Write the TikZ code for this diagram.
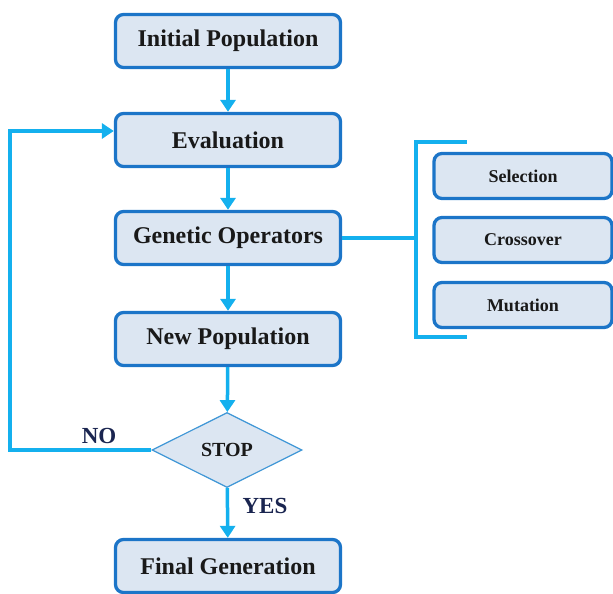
\documentclass[tikz,border=0pt]{standalone}
\usepackage{fontspec}
\setmainfont{Liberation Serif}
\usetikzlibrary{shapes.geometric,arrows.meta}
\definecolor{boxfill}{HTML}{DCE6F2}
\definecolor{boxedge}{HTML}{1C75C8}
\definecolor{conn}{HTML}{14B0EE}
\definecolor{dia}{HTML}{3E96D6}
\definecolor{lbl}{HTML}{1A2550}
\begin{document}
\begin{tikzpicture}[x=1pt,y=-1pt,
  mainbox/.style={draw=boxedge,line width=3.3pt,fill=boxfill,rounded corners=8pt,minimum width=225pt,minimum height=53pt,font=\bfseries\fontsize{24}{28}\selectfont,text=black!90,inner sep=0pt},
  opbox/.style={draw=boxedge,line width=3.3pt,fill=boxfill,rounded corners=8pt,minimum width=178pt,minimum height=45pt,font=\bfseries\fontsize{18}{20}\selectfont,text=black!90,inner sep=0pt},
  decision/.style={diamond,draw=dia,line width=1.2pt,fill=boxfill,minimum width=150pt,minimum height=75pt,aspect=2,inner sep=0pt,font=\bfseries\fontsize{20}{22}\selectfont,text=black!90},
  flow/.style={draw=conn,line width=3.5pt,-{Triangle[length=12pt,width=15pt]}},
  link/.style={draw=conn,line width=3.5pt},
  lab/.style={font=\bfseries\fontsize{23}{26}\selectfont,text=lbl}]
\useasboundingbox (0,0) rectangle (613,594);
\node[mainbox] (init) at (228,41) {Initial Population};
\node[mainbox] (eval) at (228,140) {Evaluation};
\node[mainbox] (gen) at (228,238) {Genetic Operators};
\node[mainbox] (newp) at (228,339) {New Population};
\node[decision] (stop) at (227,450) {STOP};
\node[mainbox] (fin) at (228,566) {Final Generation};
\node[opbox] (sel) at (523,176) {Selection};
\node[opbox] (cro) at (523,240) {Crossover};
\node[opbox] (mut) at (523,305) {Mutation};
\coordinate (bl) at (10,450);
\coordinate (tl) at (10,131);
\coordinate (bm) at (416,238);
\coordinate (bt) at (416,142);
\coordinate (bb) at (416,337);
\coordinate (bte) at (465,142);
\coordinate (bbe) at (465,337);
\draw[flow] (init) -- (eval);
\draw[flow] (eval) -- (gen);
\draw[flow] (gen) -- (newp);
\draw[flow] (newp) -- (stop);
\draw[flow] (stop) -- (fin);
\draw[flow] (stop.west) -- (bl) -- (tl) -- (tl -| eval.west);
\draw[link] (gen.east) -- (bm);
\draw[link,line cap=rect] (bte) -- (bt) -- (bb) -- (bbe);
\node[lab] (no) at (99,436) {NO};
\node[lab] (yes) at (265,506) {YES};
\end{tikzpicture}
\end{document}
